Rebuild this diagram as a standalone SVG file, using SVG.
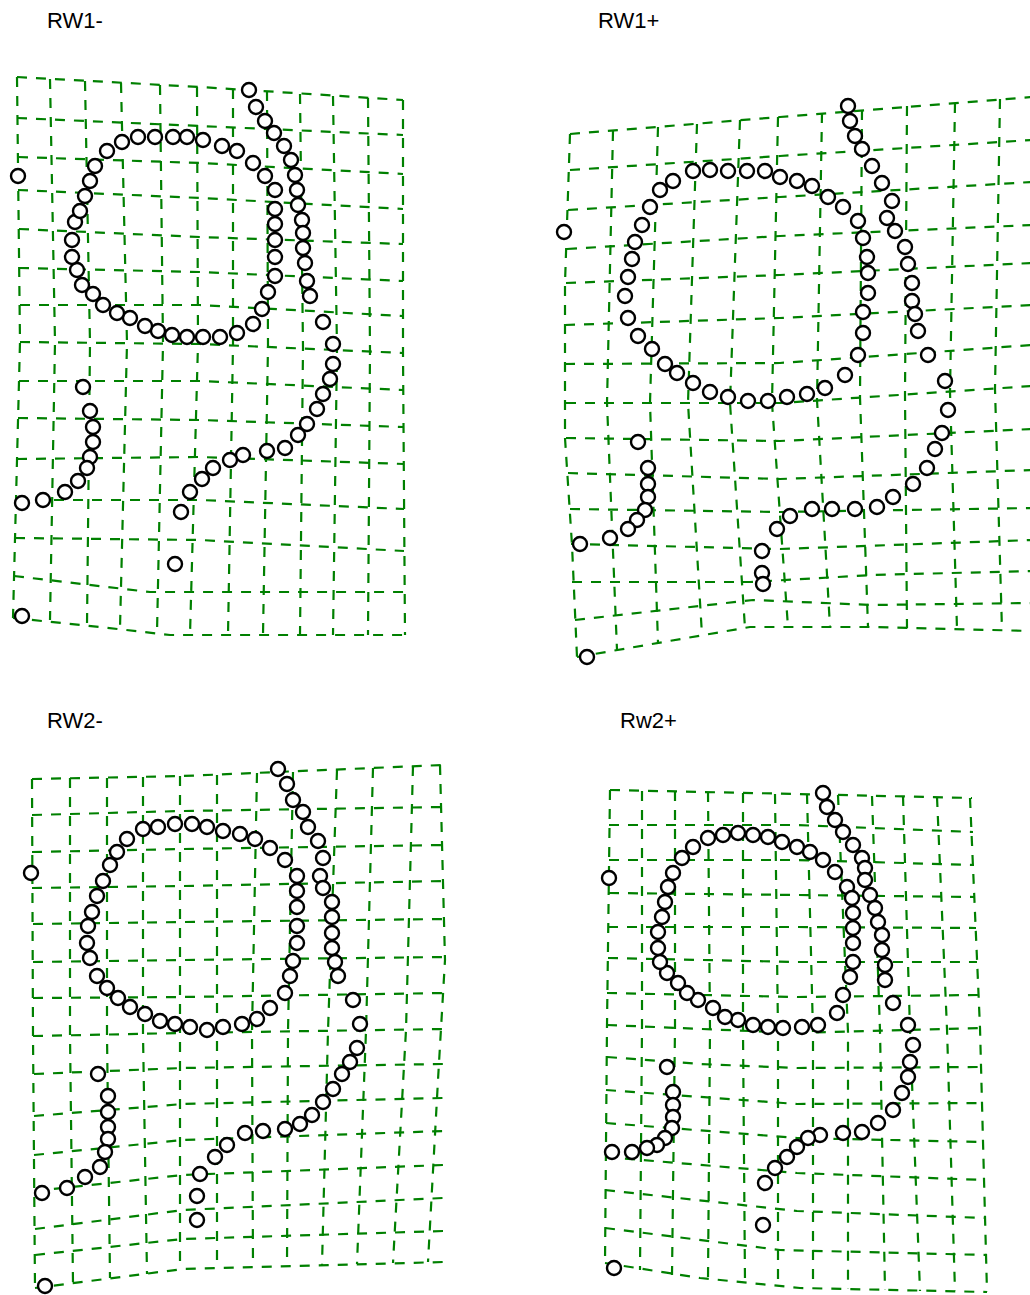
<svg xmlns="http://www.w3.org/2000/svg" width="1030" height="1295" viewBox="0 0 1030 1295">
<style>
.bg{fill:#fff}
.grid polyline{fill:none;stroke:#008000;stroke-width:2.2;stroke-dasharray:10 9}
.pts circle{fill:#fff;stroke:#000;stroke-width:2.4}
.lbl{font-family:"Liberation Sans",Arial,sans-serif;font-size:22px;fill:#000}
</style>
<rect class="bg" x="0" y="0" width="1030" height="1295"/>
<text class="lbl" x="47" y="28">RW1-</text>
<text class="lbl" x="598" y="28">RW1+</text>
<text class="lbl" x="47" y="728">RW2-</text>
<text class="lbl" x="620" y="728">Rw2+</text>

<g id="panel-rw1-minus">
<g class="grid">
<polyline points="17,77 200,87 403,100"/>
<polyline points="17,118 200,126 403,135"/>
<polyline points="18,157 200,163 403,174"/>
<polyline points="18,190 200,198 403,209"/>
<polyline points="19,229 200,237 403,244"/>
<polyline points="19,268 200,272 403,281"/>
<polyline points="20,305 200,305 403,316"/>
<polyline points="20,342 200,344 403,353"/>
<polyline points="19,381 200,381 403,390"/>
<polyline points="18,418 200,420 404,427"/>
<polyline points="17,459 200,457 404,464"/>
<polyline points="16,500 200,500 404,509"/>
<polyline points="15,538 200,540 404,551"/>
<polyline points="14,576 150,592 405,592"/>
<polyline points="13,618 100,627 170,635 405,635"/>
<polyline points="17,77 20,342 13,618"/>
<polyline points="50,79 55,342 50,620"/>
<polyline points="85,81 90,343 87,625"/>
<polyline points="121,83 127,343 120,628"/>
<polyline points="160,85 163,344 157,633"/>
<polyline points="197,87 198,344 190,635"/>
<polyline points="233,89 233,345 228,635"/>
<polyline points="267,91 268,346 263,635"/>
<polyline points="300,94 303,348 300,635"/>
<polyline points="333,96 337,349 333,635"/>
<polyline points="368,98 370,351 368,635"/>
<polyline points="403,100 403,353 405,635"/>
</g>
<g class="pts">
<circle cx="138" cy="137" r="7"/><circle cx="155" cy="137" r="7"/><circle cx="173" cy="137" r="7"/><circle cx="187" cy="137" r="7"/><circle cx="203" cy="140" r="7"/><circle cx="222" cy="146" r="7"/><circle cx="237" cy="151" r="7"/><circle cx="253" cy="163" r="7"/><circle cx="265" cy="176" r="7"/><circle cx="275" cy="190" r="7"/><circle cx="275" cy="209" r="7"/><circle cx="275" cy="224" r="7"/><circle cx="275" cy="240" r="7"/><circle cx="275" cy="257" r="7"/><circle cx="275" cy="276" r="7"/><circle cx="268" cy="292" r="7"/><circle cx="262" cy="309" r="7"/><circle cx="253" cy="324" r="7"/><circle cx="237" cy="333" r="7"/><circle cx="220" cy="337" r="7"/><circle cx="203" cy="337" r="7"/><circle cx="187" cy="337" r="7"/><circle cx="172" cy="335" r="7"/><circle cx="158" cy="331" r="7"/><circle cx="145" cy="326" r="7"/><circle cx="130" cy="318" r="7"/><circle cx="117" cy="313" r="7"/><circle cx="103" cy="305" r="7"/><circle cx="93" cy="294" r="7"/><circle cx="82" cy="285" r="7"/><circle cx="77" cy="270" r="7"/><circle cx="72" cy="257" r="7"/><circle cx="72" cy="240" r="7"/><circle cx="75" cy="222" r="7"/><circle cx="80" cy="211" r="7"/><circle cx="85" cy="196" r="7"/><circle cx="90" cy="181" r="7"/><circle cx="95" cy="166" r="7"/><circle cx="107" cy="151" r="7"/><circle cx="122" cy="142" r="7"/>
<circle cx="249" cy="90" r="7"/><circle cx="256" cy="107" r="7"/><circle cx="265" cy="121" r="7"/><circle cx="274" cy="133" r="7"/><circle cx="284" cy="146" r="7"/><circle cx="291" cy="160" r="7"/><circle cx="295" cy="175" r="7"/><circle cx="297" cy="190" r="7"/><circle cx="298" cy="205" r="7"/><circle cx="302" cy="220" r="7"/><circle cx="303" cy="233" r="7"/><circle cx="303" cy="248" r="7"/><circle cx="305" cy="263" r="7"/><circle cx="307" cy="281" r="7"/><circle cx="310" cy="296" r="7"/><circle cx="323" cy="322" r="7"/><circle cx="333" cy="344" r="7"/><circle cx="333" cy="364" r="7"/><circle cx="330" cy="379" r="7"/><circle cx="323" cy="394" r="7"/><circle cx="317" cy="409" r="7"/><circle cx="307" cy="424" r="7"/><circle cx="298" cy="435" r="7"/><circle cx="285" cy="448" r="7"/><circle cx="267" cy="451" r="7"/><circle cx="243" cy="455" r="7"/><circle cx="230" cy="460" r="7"/><circle cx="213" cy="468" r="7"/><circle cx="202" cy="479" r="7"/><circle cx="190" cy="492" r="7"/><circle cx="181" cy="512" r="7"/><circle cx="175" cy="564" r="7"/>
<circle cx="83" cy="387" r="7"/><circle cx="90" cy="411" r="7"/><circle cx="93" cy="427" r="7"/><circle cx="93" cy="442" r="7"/><circle cx="90" cy="457" r="7"/><circle cx="87" cy="468" r="7"/><circle cx="78" cy="481" r="7"/><circle cx="65" cy="492" r="7"/><circle cx="43" cy="500" r="7"/><circle cx="22" cy="503" r="7"/>
<circle cx="18" cy="176" r="7"/><circle cx="22" cy="616" r="7"/>
</g>
</g>

<g id="panel-rw1-plus">
<g class="grid">
<polyline points="570,134 780,117 1032,97"/>
<polyline points="570,170 780,156 1032,140"/>
<polyline points="568,210 780,197 1032,182"/>
<polyline points="567,249 780,236 1032,225"/>
<polyline points="566,283 780,275 1032,263"/>
<polyline points="565,325 780,318 1032,305"/>
<polyline points="565,364 780,363 1032,345"/>
<polyline points="566,403 780,403 1032,386"/>
<polyline points="566,438 780,441 1032,429"/>
<polyline points="568,473 780,479 1032,470"/>
<polyline points="570,509 780,512 1032,508"/>
<polyline points="571,544 780,549 1032,540"/>
<polyline points="572,582 750,582 873,575 1032,571"/>
<polyline points="575,620 753,600 873,605 1032,603"/>
<polyline points="577,657 750,627 873,627 1032,631"/>
<polyline points="570,134 565,283 565,438 572,545 577,657"/>
<polyline points="613,131 607,403 617,650"/>
<polyline points="658,127 650,403 658,643"/>
<polyline points="697,124 688,403 702,635"/>
<polyline points="740,120 730,403 745,628"/>
<polyline points="778,117 772,403 788,627"/>
<polyline points="822,113 817,400 830,627"/>
<polyline points="862,110 860,397 868,627"/>
<polyline points="907,106 905,395 907,628"/>
<polyline points="955,103 950,392 957,629"/>
<polyline points="1000,99 995,389 1002,630"/>
</g>
<g class="pts">
<circle cx="693" cy="171" r="7"/><circle cx="710" cy="170" r="7"/><circle cx="728" cy="171" r="7"/><circle cx="747" cy="171" r="7"/><circle cx="765" cy="171" r="7"/><circle cx="780" cy="177" r="7"/><circle cx="797" cy="181" r="7"/><circle cx="812" cy="186" r="7"/><circle cx="828" cy="197" r="7"/><circle cx="843" cy="207" r="7"/><circle cx="858" cy="221" r="7"/><circle cx="863" cy="238" r="7"/><circle cx="867" cy="257" r="7"/><circle cx="868" cy="273" r="7"/><circle cx="868" cy="293" r="7"/><circle cx="863" cy="312" r="7"/><circle cx="863" cy="333" r="7"/><circle cx="858" cy="355" r="7"/><circle cx="845" cy="375" r="7"/><circle cx="825" cy="388" r="7"/><circle cx="807" cy="394" r="7"/><circle cx="787" cy="397" r="7"/><circle cx="768" cy="401" r="7"/><circle cx="748" cy="401" r="7"/><circle cx="728" cy="397" r="7"/><circle cx="710" cy="392" r="7"/><circle cx="693" cy="383" r="7"/><circle cx="677" cy="373" r="7"/><circle cx="665" cy="364" r="7"/><circle cx="652" cy="349" r="7"/><circle cx="638" cy="336" r="7"/><circle cx="628" cy="318" r="7"/><circle cx="625" cy="296" r="7"/><circle cx="628" cy="277" r="7"/><circle cx="632" cy="259" r="7"/><circle cx="635" cy="242" r="7"/><circle cx="642" cy="225" r="7"/><circle cx="650" cy="207" r="7"/><circle cx="660" cy="190" r="7"/><circle cx="673" cy="181" r="7"/>
<circle cx="848" cy="106" r="7"/><circle cx="850" cy="121" r="7"/><circle cx="855" cy="136" r="7"/><circle cx="862" cy="149" r="7"/><circle cx="872" cy="166" r="7"/><circle cx="882" cy="183" r="7"/><circle cx="892" cy="201" r="7"/><circle cx="887" cy="218" r="7"/><circle cx="895" cy="231" r="7"/><circle cx="905" cy="247" r="7"/><circle cx="908" cy="264" r="7"/><circle cx="912" cy="283" r="7"/><circle cx="912" cy="301" r="7"/><circle cx="915" cy="314" r="7"/><circle cx="918" cy="331" r="7"/><circle cx="928" cy="355" r="7"/><circle cx="945" cy="381" r="7"/><circle cx="948" cy="410" r="7"/><circle cx="942" cy="433" r="7"/><circle cx="935" cy="449" r="7"/><circle cx="927" cy="468" r="7"/><circle cx="913" cy="484" r="7"/><circle cx="893" cy="497" r="7"/><circle cx="877" cy="507" r="7"/><circle cx="855" cy="509" r="7"/><circle cx="832" cy="509" r="7"/><circle cx="812" cy="509" r="7"/><circle cx="790" cy="516" r="7"/><circle cx="777" cy="529" r="7"/><circle cx="762" cy="551" r="7"/><circle cx="762" cy="573" r="7"/><circle cx="763" cy="584" r="7"/>
<circle cx="638" cy="442" r="7"/><circle cx="648" cy="468" r="7"/><circle cx="648" cy="484" r="7"/><circle cx="648" cy="497" r="7"/><circle cx="645" cy="510" r="7"/><circle cx="637" cy="520" r="7"/><circle cx="628" cy="529" r="7"/><circle cx="610" cy="538" r="7"/><circle cx="580" cy="544" r="7"/>
<circle cx="564" cy="232" r="7"/><circle cx="587" cy="657" r="7"/>
</g>
</g>

<g id="panel-rw2-minus">
<g class="grid">
<polyline points="32,779 183,776 443,765"/>
<polyline points="32,815 183,811 443,807"/>
<polyline points="32,852 183,849 443,845"/>
<polyline points="32,888 183,886 444,881"/>
<polyline points="33,924 183,922 445,919"/>
<polyline points="33,962 183,960 446,957"/>
<polyline points="33,998 183,997 446,993"/>
<polyline points="33,1036 183,1033 444,1029"/>
<polyline points="34,1074 183,1068 443,1064"/>
<polyline points="34,1116 183,1104 443,1098"/>
<polyline points="34,1155 183,1140 443,1131"/>
<polyline points="35,1191 183,1175 443,1165"/>
<polyline points="35,1229 183,1210 443,1198"/>
<polyline points="35,1255 183,1239 443,1231"/>
<polyline points="35,1288 183,1269 443,1262"/>
<polyline points="32,779 33,1036 35,1288"/>
<polyline points="70,778 70,1035 73,1283"/>
<polyline points="107,778 107,1035 110,1278"/>
<polyline points="143,777 143,1034 147,1274"/>
<polyline points="180,776 180,1033 180,1269"/>
<polyline points="217,775 217,1033 217,1268"/>
<polyline points="257,773 252,1032 253,1267"/>
<polyline points="293,772 288,1032 287,1266"/>
<polyline points="337,770 328,1031 322,1265"/>
<polyline points="373,768 366,1031 357,1264"/>
<polyline points="413,766 406,1030 393,1263"/>
<polyline points="440,765 445,960 438,1080 428,1262"/>
</g>
<g class="pts">
<circle cx="143" cy="829" r="7"/><circle cx="158" cy="827" r="7"/><circle cx="175" cy="824" r="7"/><circle cx="192" cy="824" r="7"/><circle cx="207" cy="827" r="7"/><circle cx="223" cy="831" r="7"/><circle cx="240" cy="834" r="7"/><circle cx="255" cy="839" r="7"/><circle cx="270" cy="848" r="7"/><circle cx="285" cy="860" r="7"/><circle cx="297" cy="876" r="7"/><circle cx="297" cy="891" r="7"/><circle cx="297" cy="907" r="7"/><circle cx="297" cy="926" r="7"/><circle cx="297" cy="943" r="7"/><circle cx="293" cy="961" r="7"/><circle cx="290" cy="976" r="7"/><circle cx="285" cy="993" r="7"/><circle cx="270" cy="1008" r="7"/><circle cx="257" cy="1019" r="7"/><circle cx="242" cy="1024" r="7"/><circle cx="223" cy="1027" r="7"/><circle cx="207" cy="1030" r="7"/><circle cx="190" cy="1027" r="7"/><circle cx="175" cy="1024" r="7"/><circle cx="160" cy="1021" r="7"/><circle cx="145" cy="1014" r="7"/><circle cx="130" cy="1007" r="7"/><circle cx="118" cy="998" r="7"/><circle cx="107" cy="988" r="7"/><circle cx="97" cy="976" r="7"/><circle cx="90" cy="958" r="7"/><circle cx="87" cy="943" r="7"/><circle cx="88" cy="926" r="7"/><circle cx="92" cy="912" r="7"/><circle cx="97" cy="896" r="7"/><circle cx="103" cy="881" r="7"/><circle cx="110" cy="865" r="7"/><circle cx="117" cy="852" r="7"/><circle cx="127" cy="839" r="7"/>
<circle cx="278" cy="769" r="7"/><circle cx="287" cy="784" r="7"/><circle cx="293" cy="800" r="7"/><circle cx="303" cy="812" r="7"/><circle cx="308" cy="827" r="7"/><circle cx="318" cy="841" r="7"/><circle cx="323" cy="858" r="7"/><circle cx="320" cy="876" r="7"/><circle cx="323" cy="888" r="7"/><circle cx="332" cy="902" r="7"/><circle cx="332" cy="917" r="7"/><circle cx="332" cy="933" r="7"/><circle cx="332" cy="948" r="7"/><circle cx="335" cy="962" r="7"/><circle cx="338" cy="976" r="7"/><circle cx="353" cy="1000" r="7"/><circle cx="360" cy="1024" r="7"/><circle cx="357" cy="1048" r="7"/><circle cx="350" cy="1062" r="7"/><circle cx="342" cy="1074" r="7"/><circle cx="333" cy="1089" r="7"/><circle cx="323" cy="1102" r="7"/><circle cx="312" cy="1115" r="7"/><circle cx="300" cy="1124" r="7"/><circle cx="285" cy="1129" r="7"/><circle cx="263" cy="1131" r="7"/><circle cx="245" cy="1133" r="7"/><circle cx="227" cy="1145" r="7"/><circle cx="215" cy="1157" r="7"/><circle cx="200" cy="1174" r="7"/><circle cx="197" cy="1196" r="7"/><circle cx="197" cy="1220" r="7"/>
<circle cx="98" cy="1074" r="7"/><circle cx="108" cy="1096" r="7"/><circle cx="108" cy="1112" r="7"/><circle cx="108" cy="1127" r="7"/><circle cx="108" cy="1139" r="7"/><circle cx="105" cy="1152" r="7"/><circle cx="100" cy="1167" r="7"/><circle cx="85" cy="1177" r="7"/><circle cx="67" cy="1188" r="7"/><circle cx="42" cy="1193" r="7"/>
<circle cx="31" cy="873" r="7"/><circle cx="45" cy="1286" r="7"/>
</g>
</g>

<g id="panel-rw2-plus">
<g class="grid">
<polyline points="610,790 797,794 972,798"/>
<polyline points="609,825 797,825 973,832"/>
<polyline points="609,860 797,860 974,865"/>
<polyline points="609,893 797,895 975,897"/>
<polyline points="608,927 797,927 976,928"/>
<polyline points="608,958 797,962 977,962"/>
<polyline points="607,993 797,997 978,995"/>
<polyline points="607,1025 797,1033 980,1028"/>
<polyline points="607,1057 700,1064 797,1068 981,1067"/>
<polyline points="606,1090 797,1104 982,1103"/>
<polyline points="606,1123 797,1138 983,1142"/>
<polyline points="606,1157 797,1173 984,1180"/>
<polyline points="605,1190 797,1211 985,1218"/>
<polyline points="605,1228 780,1250 986,1255"/>
<polyline points="605,1263 700,1278 800,1288 987,1292"/>
<polyline points="610,790 607,1025 605,1263"/>
<polyline points="642,791 642,1027 640,1270"/>
<polyline points="675,791 675,1028 672,1275"/>
<polyline points="708,792 710,1030 708,1279"/>
<polyline points="743,793 743,1031 745,1283"/>
<polyline points="775,794 778,1032 778,1286"/>
<polyline points="807,794 813,1033 813,1288"/>
<polyline points="838,795 848,1032 848,1289"/>
<polyline points="872,796 880,1031 885,1290"/>
<polyline points="903,796 910,1030 920,1291"/>
<polyline points="937,797 947,1029 955,1291"/>
<polyline points="970,798 980,1028 987,1292"/>
</g>
<g class="pts">
<circle cx="708" cy="838" r="7"/><circle cx="723" cy="835" r="7"/><circle cx="738" cy="833" r="7"/><circle cx="753" cy="835" r="7"/><circle cx="768" cy="837" r="7"/><circle cx="782" cy="842" r="7"/><circle cx="797" cy="847" r="7"/><circle cx="810" cy="852" r="7"/><circle cx="823" cy="860" r="7"/><circle cx="835" cy="872" r="7"/><circle cx="847" cy="887" r="7"/><circle cx="852" cy="898" r="7"/><circle cx="853" cy="913" r="7"/><circle cx="853" cy="928" r="7"/><circle cx="853" cy="943" r="7"/><circle cx="853" cy="962" r="7"/><circle cx="850" cy="977" r="7"/><circle cx="843" cy="995" r="7"/><circle cx="837" cy="1013" r="7"/><circle cx="818" cy="1025" r="7"/><circle cx="802" cy="1027" r="7"/><circle cx="783" cy="1028" r="7"/><circle cx="768" cy="1027" r="7"/><circle cx="753" cy="1025" r="7"/><circle cx="738" cy="1020" r="7"/><circle cx="725" cy="1017" r="7"/><circle cx="713" cy="1008" r="7"/><circle cx="698" cy="1000" r="7"/><circle cx="687" cy="993" r="7"/><circle cx="678" cy="983" r="7"/><circle cx="667" cy="973" r="7"/><circle cx="660" cy="962" r="7"/><circle cx="658" cy="948" r="7"/><circle cx="658" cy="932" r="7"/><circle cx="662" cy="917" r="7"/><circle cx="665" cy="902" r="7"/><circle cx="668" cy="887" r="7"/><circle cx="673" cy="873" r="7"/><circle cx="682" cy="858" r="7"/><circle cx="693" cy="847" r="7"/>
<circle cx="823" cy="793" r="7"/><circle cx="827" cy="807" r="7"/><circle cx="835" cy="820" r="7"/><circle cx="843" cy="832" r="7"/><circle cx="853" cy="845" r="7"/><circle cx="862" cy="858" r="7"/><circle cx="865" cy="868" r="7"/><circle cx="865" cy="880" r="7"/><circle cx="870" cy="895" r="7"/><circle cx="875" cy="908" r="7"/><circle cx="878" cy="922" r="7"/><circle cx="882" cy="935" r="7"/><circle cx="882" cy="950" r="7"/><circle cx="885" cy="965" r="7"/><circle cx="885" cy="980" r="7"/><circle cx="893" cy="1003" r="7"/><circle cx="908" cy="1025" r="7"/><circle cx="913" cy="1045" r="7"/><circle cx="910" cy="1062" r="7"/><circle cx="908" cy="1077" r="7"/><circle cx="902" cy="1093" r="7"/><circle cx="893" cy="1110" r="7"/><circle cx="878" cy="1123" r="7"/><circle cx="862" cy="1132" r="7"/><circle cx="843" cy="1133" r="7"/><circle cx="820" cy="1135" r="7"/><circle cx="808" cy="1138" r="7"/><circle cx="797" cy="1147" r="7"/><circle cx="787" cy="1157" r="7"/><circle cx="775" cy="1168" r="7"/><circle cx="765" cy="1183" r="7"/>
<circle cx="667" cy="1067" r="7"/><circle cx="673" cy="1092" r="7"/><circle cx="673" cy="1105" r="7"/><circle cx="673" cy="1117" r="7"/><circle cx="672" cy="1128" r="7"/><circle cx="665" cy="1138" r="7"/><circle cx="657" cy="1145" r="7"/><circle cx="647" cy="1148" r="7"/><circle cx="632" cy="1152" r="7"/><circle cx="612" cy="1152" r="7"/>
<circle cx="609" cy="878" r="7"/><circle cx="763" cy="1225" r="7"/><circle cx="614" cy="1268" r="7"/>
</g>
</g>
</svg>
